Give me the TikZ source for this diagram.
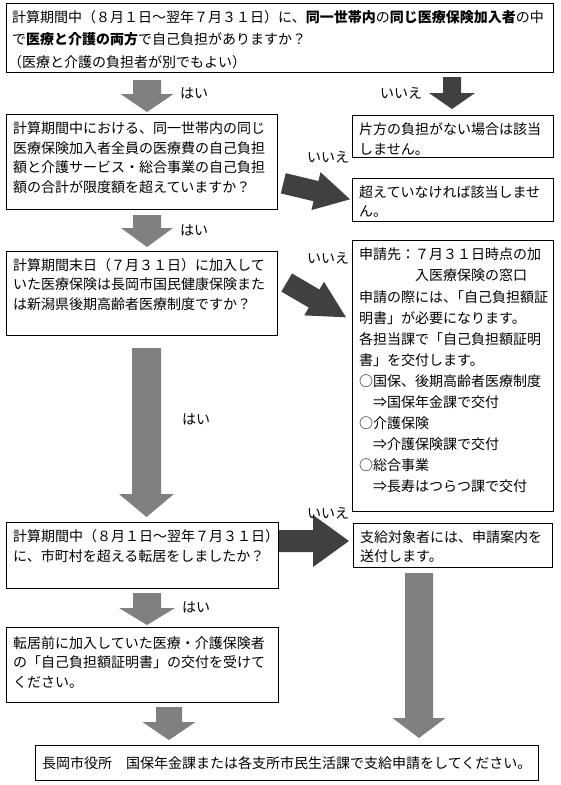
\documentclass[tikz,border=0pt]{standalone}
\usepackage{fontspec}
\setmainfont{Noto Sans CJK JP}
\usetikzlibrary{calc}
\XeTeXlinebreaklocale "ja"
\XeTeXlinebreakskip=0pt plus 4pt
\definecolor{agray}{HTML}{808080}
\definecolor{adark}{HTML}{404040}
\newcommand\jfont{\fontsize{14pt}{19.5pt}\selectfont}
\newcommand\jl[2]{\makebox[#1pt][s]{#2}}
\newcommand\blockarr[6]{%
  \coordinate (#1b) at ($(#2)!#5!(#1)$);
  \fill[#6] ($(#1)!#3!90:(#2)$) -- ($(#1b)!#3!90:(#2)$) -- ($(#1b)!#4!90:(#2)$) -- (#2)
    -- ($(#1b)!#4!-90:(#2)$) -- ($(#1b)!#3!-90:(#2)$) -- ($(#1)!#3!-90:(#2)$) -- cycle;}
\tikzset{
  jbox/.style={draw, line width=0.9pt, inner sep=0pt, anchor=north west},
  ln/.style={anchor=base west, inner sep=0pt, font=\jfont},
  lbl/.style={anchor=base west, inner sep=0pt, font=\jfont},
}
\begin{document}
\begin{tikzpicture}[x=1pt,y=-1pt]
\fill[white] (0,0) rectangle (560,785);
\useasboundingbox (0,0) rectangle (560,785);

% boxes
\node[jbox, minimum width=547pt, minimum height=69pt] (top) at (6,3) {};
\node[jbox, minimum width=271pt, minimum height=95pt] (b2) at (6,114) {};
\node[jbox, minimum width=201pt, minimum height=42pt] (r1) at (352,115) {};
\node[jbox, minimum width=201pt, minimum height=43pt] (r2) at (352,178) {};
\node[jbox, minimum width=271pt, minimum height=84pt] (b3) at (6,251) {};
\node[jbox, minimum width=201pt, minimum height=271pt] (r3) at (352,240) {};
\node[jbox, minimum width=272pt, minimum height=66pt] (b4) at (6,522) {};
\node[jbox, minimum width=199pt, minimum height=44pt] (r4) at (353,523) {};
\node[jbox, minimum width=272pt, minimum height=75pt] (b5) at (6,627) {};
\node[jbox, minimum width=503pt, minimum height=35pt] (fin) at (35,745) {};

% arrow end points
\coordinate (a1t) at (147,80);   \coordinate (a1h) at (147,112);
\coordinate (a2t) at (452,77);   \coordinate (a2h) at (452,109);
\coordinate (d1t) at (283.3,183.3); \coordinate (d1h) at (350,199.3);
\coordinate (a3t) at (147,215);  \coordinate (a3h) at (147,247);
\coordinate (d2t) at (286.7,282.5); \coordinate (d2h) at (346,317.3);
\coordinate (a4t) at (146.5,348);  \coordinate (a4h) at (146.5,517);
\coordinate (h1t) at (279,541);  \coordinate (h1h) at (349,541);
\coordinate (a5t) at (147,593);  \coordinate (a5h) at (147,625);
\coordinate (a6t) at (169,707);  \coordinate (a6h) at (169,740);
\coordinate (a7t) at (419,573);  \coordinate (a7h) at (419,738);

\blockarr{a1t}{a1h}{14pt}{26.5pt}{18pt}{agray}
\blockarr{a2t}{a2h}{9pt}{23pt}{16pt}{adark}
\blockarr{d1t}{d1h}{10.4pt}{19.5pt}{35pt}{adark}
\blockarr{a3t}{a3h}{14pt}{26pt}{19pt}{agray}
\blockarr{d2t}{d2h}{10.5pt}{19.5pt}{37pt}{adark}
\blockarr{a4t}{a4h}{14.5pt}{27.5pt}{23pt}{agray}
\blockarr{h1t}{h1h}{11pt}{26pt}{36pt}{adark}
\blockarr{a5t}{a5h}{14pt}{28pt}{17pt}{agray}
\blockarr{a6t}{a6h}{13pt}{26.5pt}{18pt}{agray}
\blockarr{a7t}{a7h}{14pt}{26.5pt}{20pt}{agray}

% top box text
\node[ln] (top1) at (12,22.3) {\jl{533}{計算期間中（８月１日～翌年７月３１日）に、\textbf{同一世帯内}の\textbf{同じ医療保険加入者}の中}};
\node[ln] (top2) at (12,44.8) {で\textbf{医療と介護の両方}で自己負担がありますか？};
\node[ln] (top3) at (8,67.3) {（医療と介護の負担者が別でもよい）};

% box 2
\node[ln] (b2l1) at (13,133.8) {\jl{257}{計算期間中における、同一世帯内の同じ}};
\node[ln] (b2l2) at (13,153.3) {\jl{257}{医療保険加入者全員の医療費の自己負担}};
\node[ln] (b2l3) at (13,172.8) {\jl{257}{額と介護サービス・総合事業の自己負担}};
\node[ln] (b2l4) at (13,192.3) {額の合計が限度額を超えていますか？};

% right boxes 1,2
\node[ln] (r1l1) at (359,134.8) {片方の負担がない場合は該当};
\node[ln] (r1l2) at (359,154.3) {しません。};
\node[ln] (r2l1) at (359,197.3) {超えていなければ該当しませ};
\node[ln] (r2l2) at (359,216.3) {ん。};

% box 3
\node[ln] (b3l1) at (13,270.3) {\jl{262}{計算期間末日（７月３１日）に加入して}};
\node[ln] (b3l2) at (13,289.8) {\jl{262}{いた医療保険は長岡市国民健康保険また}};
\node[ln] (b3l3) at (13,309.3) {は新潟県後期高齢者医療制度ですか？};

% right box 3
\node[ln] (r3l1) at (359,259.8) {申請先：７月３１日時点の加};
\node[ln] (r3l2) at (359,280.9) {　　　　入医療保険の窓口};
\node[ln] (r3l3) at (359,302.0) {申請の際には、\kern-0.5em「自己負担額証};
\node[ln] (r3l4) at (359,323.1) {明書」が必要になります。};
\node[ln] (r3l5) at (359,344.2) {各担当課で「自己負担額証明};
\node[ln] (r3l6) at (359,365.3) {書」を交付します。};
\node[ln] (r3l7) at (359,386.4) {○国保、後期高齢者医療制度};
\node[ln] (r3l8) at (359,407.5) {　⇒国保年金課で交付};
\node[ln] (r3l9) at (359,428.6) {○介護保険};
\node[ln] (r3l10) at (359,449.7) {　⇒介護保険課で交付};
\node[ln] (r3l11) at (359,470.8) {○総合事業};
\node[ln] (r3l12) at (359,491.9) {　⇒長寿はつらつ課で交付};

% box 4 and right box 4
\node[ln] (b4l1) at (13,541.3) {計算期間中（８月１日～翌年７月３１日）};
\node[ln] (b4l2) at (13,561.3) {に、市町村を超える転居をしましたか？};
\node[ln] (r4l1) at (360,542.3) {支給対象者には、申請案内を};
\node[ln] (r4l2) at (360,561.3) {送付します。};

% box 5
\node[ln] (b5l1) at (13,648.3) {\jl{263}{転居前に加入していた医療・介護保険者}};
\node[ln] (b5l2) at (13,667.8) {\jl{263}{の「自己負担額証明書」の交付を受けて}};
\node[ln] (b5l3) at (13,687.3) {ください。};

% final box
\node[ln] (finl) at (42,768.3) {長岡市役所　国保年金課または各支所市民生活課で支給申請をしてください。};

% labels
\node[lbl] (y1) at (180,98.3) {はい};
\node[lbl] (n1) at (380,98.3) {いいえ};
\node[lbl] (n2) at (307,162.3) {いいえ};
\node[lbl] (y2) at (180,235.3) {はい};
\node[lbl] (n3) at (307,263.3) {いいえ};
\node[lbl] (y3) at (182,424.3) {はい};
\node[lbl] (n4) at (307,518.3) {いいえ};
\node[lbl] (y4) at (182,612.3) {はい};
\end{tikzpicture}
\end{document}
